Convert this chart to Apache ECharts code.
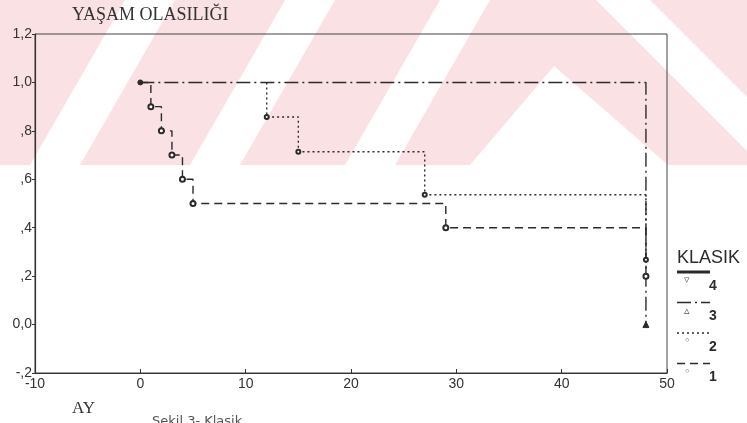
<!DOCTYPE html>
<html>
<head>
<meta charset="utf-8">
<script src="https://cdn.jsdelivr.net/npm/echarts@6/dist/echarts.min.js"></script>
<style>
  html, body { margin: 0; padding: 0; background: #ffffff; }
  #chart { width: 747px; height: 423px; }
</style>
</head>
<body>
<div id="chart"></div>
<script>
// ---- data ----
// Kaplan-Meier survival steps per KLASIK group: [month, survival]
var group1 = [[0, 1.0], [1, 0.9], [2, 0.8], [3, 0.7], [4, 0.6], [5, 0.5], [29, 0.4], [48, 0.2]];
var group2 = [[12, 1.0], [12, 0.857], [15, 0.714], [27, 0.536], [48, 0.268]];
var group3 = [[0, 1.0], [48, 0.0]];
var group4 = [];
var legendNames = ['4', '3', '2', '1'];
var yTickLabels = ['-,2', '0,0', ',2', ',4', ',6', ',8', '1,0', '1,2'];
var xMin = -10, xMax = 50, xStep = 10;
var yMin = -0.2, yMax = 1.2, yStep = 0.2;

var ink = '#2b2b2b';
var dashStyles = {
  '1': [8, 5],
  '2': [2, 3],
  '3': [14, 4, 2, 4],
  '4': 'solid'
};

function mkData(arr, symbols) {
  return arr.map(function (p, i) {
    var s = symbols(i, arr.length);
    return { value: p, symbol: s.symbol, symbolSize: s.size };
  });
}

var chart = echarts.init(document.getElementById('chart'), null, { renderer: 'canvas' });

// ---- watermark + custom legend (decoration) ----
var graphics = [];
graphics.push({ type: 'rect', z: -20, silent: true, shape: { x: 0, y: 0, width: 747, height: 165 }, style: { fill: '#fae1e4' } });
var whitePolys = [
  [[30, 165], [80, 165], [175, 0], [125, 0]],
  [[190, 165], [240, 165], [335, 0], [285, 0]],
  [[345, 165], [395, 165], [490, 0], [440, 0]],
  [[470, 165], [668, 165], [554, 66]],
  [[596, 0], [650, 0], [747, 97], [747, 151]]
];
whitePolys.forEach(function (pts) {
  graphics.push({ type: 'polygon', z: -19, silent: true, shape: { points: pts }, style: { fill: '#ffffff' } });
});

graphics.push({ type: 'text', left: 72, top: 6, style: { text: 'YAŞAM OLASILIĞI', font: '18px "Liberation Serif", "DejaVu Serif", serif', fill: '#333' } });
graphics.push({ type: 'text', left: 72, top: 400, style: { text: 'AY', font: '17px "Liberation Serif", "DejaVu Serif", serif', fill: '#333' } });
graphics.push({ type: 'text', left: 152, top: 415, style: { text: 'Şekil 3- Klasik', font: '13px "DejaVu Sans", "Liberation Sans", sans-serif', fill: '#555' } });
graphics.push({ type: 'text', left: 677, top: 249, style: { text: 'KLASIK', font: '18px "Liberation Sans", Arial, sans-serif', fill: '#2b2b2b' } });

var legendMarks = { '4': '▿', '3': '▵', '2': '◦', '1': '◦' };
legendNames.forEach(function (name, i) {
  var y0 = 272 + i * 30.5;
  graphics.push({
    type: 'line', shape: { x1: 677, y1: y0, x2: 710, y2: y0 },
    style: { stroke: ink, lineWidth: name === '4' ? 3 : 1.4, lineDash: name === '4' ? null : dashStyles[name] }
  });
  graphics.push({ type: 'text', left: 684, top: y0 + 3, style: { text: legendMarks[name], font: '11px "DejaVu Sans", sans-serif', fill: '#555' } });
  graphics.push({ type: 'text', left: 709, top: y0 + 7, style: { text: name, font: 'bold 14px "Liberation Sans", Arial, sans-serif', fill: '#2b2b2b' } });
});

function lineSeries(name, data, symbols) {
  return {
    type: 'line',
    name: name,
    step: 'end',
    data: mkData(data, symbols),
    showSymbol: true,
    showAllSymbol: true,
    animation: false,
    lineStyle: { color: ink, width: 1.4, type: dashStyles[name] },
    itemStyle: { color: ink, borderColor: ink, borderWidth: 1 },
    z: 3
  };
}

var option = {
  backgroundColor: 'transparent',
  animation: false,
  grid: { left: 35, right: 80, top: 34, bottom: 50, show: true, borderColor: '#444', borderWidth: 1, backgroundColor: 'transparent' },
  xAxis: {
    type: 'value', min: xMin, max: xMax, interval: xStep,
    axisLine: { show: true, onZero: false, lineStyle: { color: '#333', width: 1.2 } },
    axisTick: { show: true, inside: true, length: 4, lineStyle: { color: '#333' } },
    axisLabel: { color: '#333', fontSize: 14, margin: 4, fontFamily: '"Liberation Sans", Arial, sans-serif' },
    splitLine: { show: false }
  },
  yAxis: {
    type: 'value', min: yMin, max: yMax, interval: yStep,
    axisLine: { show: true, onZero: false, lineStyle: { color: '#333', width: 1.2 } },
    axisTick: { show: true, length: 3, lineStyle: { color: '#333' } },
    axisLabel: {
      color: '#333', fontSize: 14, margin: 3, fontFamily: '"Liberation Sans", Arial, sans-serif',
      formatter: function (v) { return yTickLabels[Math.round((v - yMin) / yStep)]; }
    },
    splitLine: { show: false }
  },
  graphic: { elements: graphics },
  series: [
    lineSeries('1', group1, function (i) { return i === 0 ? { symbol: 'circle', size: 5 } : { symbol: 'emptyCircle', size: 5 }; }),
    lineSeries('2', group2, function (i) { return i === 0 ? { symbol: 'none', size: 0 } : { symbol: 'emptyCircle', size: 4 }; }),
    lineSeries('3', group3, function (i, n) { return i === n - 1 ? { symbol: 'triangle', size: 6 } : { symbol: 'none', size: 0 }; }),
    lineSeries('4', group4, function () { return { symbol: 'triangle', size: 5 }; })
  ]
};
chart.setOption(option);
</script>
</body>
</html>
